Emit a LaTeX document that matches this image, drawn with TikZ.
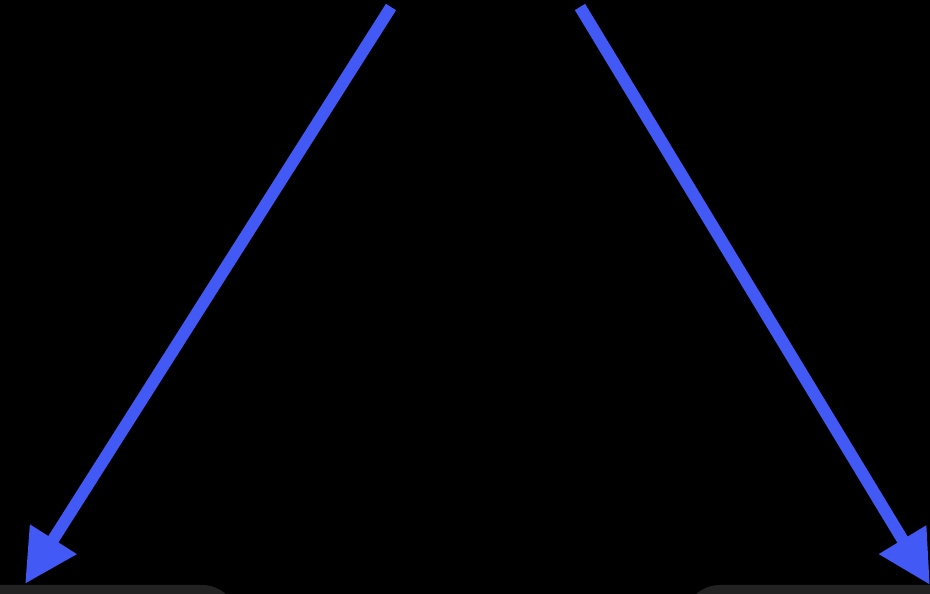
\documentclass[tikz,border=0pt]{standalone}
\usetikzlibrary{arrows.meta}
\definecolor{arrowblue}{RGB}{66,89,245}
\definecolor{boxgray}{RGB}{34,34,34}
\begin{document}
\begin{tikzpicture}[x=1pt,y=1pt,
  conn/.style={draw=arrowblue,line width=12pt,-{Triangle[length=53pt,width=52pt]}},
  panel/.style={fill=boxgray,rounded corners=36pt}]
\useasboundingbox (0,0) rectangle (930,594);
\fill[black] (0,0) rectangle (930,594);
\clip (0,0) rectangle (930,594);
% panels (only their tops are visible)
\fill[panel] (-60,-100) rectangle (238,9);
\fill[panel] (684,-100) rectangle (1000,9);
\coordinate (s1) at (391,587);
\coordinate (t1) at (25,10);
\coordinate (s2) at (580,587);
\coordinate (t2) at (930,9);
\draw[conn] (s1) -- (t1);
\draw[conn] (s2) -- (t2);
\end{tikzpicture}
\end{document}
